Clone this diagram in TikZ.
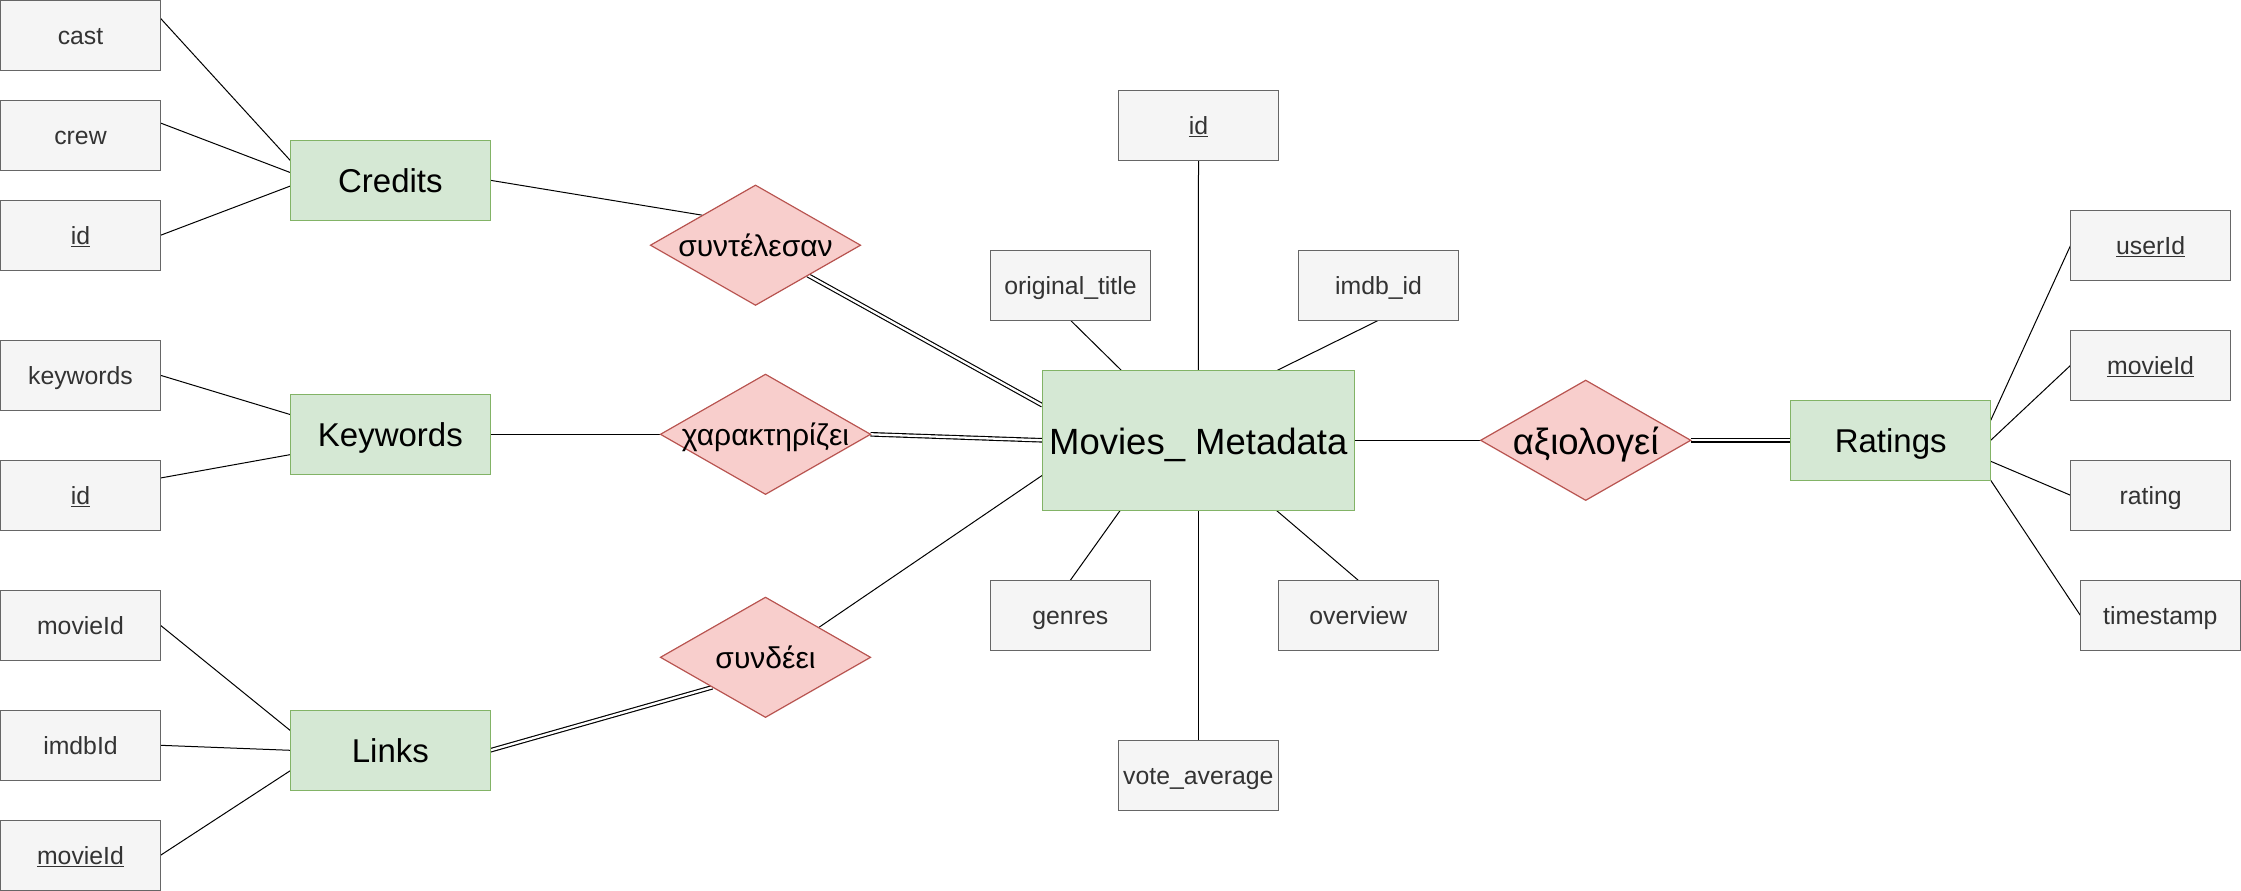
\documentclass[tikz,border=0pt]{standalone}
\usepackage{fontspec}
\setmainfont{Liberation Sans}
\usetikzlibrary{shapes.geometric,backgrounds}
\definecolor{attrfill}{HTML}{F5F5F5}
\definecolor{attrdraw}{HTML}{666666}
\definecolor{attrtext}{HTML}{333333}
\definecolor{entfill}{HTML}{D5E8D4}
\definecolor{entdraw}{HTML}{82B366}
\definecolor{relfill}{HTML}{F8CECC}
\definecolor{reldraw}{HTML}{B85450}
\newcommand\ct[1]{\raisebox{-0.38em}[0pt][0pt]{\makebox[0pt]{#1}}}
\begin{document}
\begin{tikzpicture}[x=1pt,y=-1pt,
  attr/.style={draw=attrdraw, fill=attrfill, line width=1.2pt, minimum width=160pt, minimum height=70pt, inner sep=0pt, outer sep=0pt, text=attrtext, font=\fontsize{24.8pt}{30pt}\selectfont},
  ent/.style={draw=entdraw, fill=entfill, line width=1.2pt, minimum width=200pt, minimum height=80pt, inner sep=0pt, outer sep=0pt, text=black, font=\fontsize{33pt}{40pt}\selectfont},
  rel/.style={diamond, draw=reldraw, fill=relfill, line width=1.2pt, minimum width=210pt, minimum height=120pt, inner sep=0pt, outer sep=0pt, text=black, font=\fontsize{30pt}{36pt}\selectfont},
  link/.style={draw=black, line width=1pt},
  dbl/.style={draw=black, double=white, double distance=2.3pt, line width=1.15pt}]
\useasboundingbox (0,0) rectangle (2241,891);

% Credits group
\node[attr] (cast) at (80.5,35.3) {\ct{cast}};
\node[attr] (crew) at (80.5,135.3) {\ct{crew}};
\node[attr] (idc) at (80.5,235.3) {\ct{\underline{id}}};
\node[ent] (credits) at (390.4,180.3) {\ct{Credits}};

% Keywords group
\node[attr] (keywords) at (80.5,375.3) {\ct{keywords}};
\node[attr] (idk) at (80.5,495.3) {\ct{\underline{id}}};
\node[ent] (kw) at (390.4,434.3) {\ct{Keywords}};

% Links group
\node[attr] (movieIdL) at (80.5,625.3) {\ct{movieId}};
\node[attr] (imdbId) at (80.5,745.3) {\ct{imdbId}};
\node[attr] (movieIdL2) at (80.5,855.3) {\ct{\underline{movieId}}};
\node[ent] (links) at (390.4,750.3) {\ct{Links}};

% Relationships
\node[rel] (synt) at (755.5,245.2) {\ct{συντέλεσαν}};
\node[rel] (khar) at (765.5,434.3) {\ct{χαρακτηρίζει}};
\node[rel] (synd) at (765.5,657.3) {\ct{συνδέει}};
\node[rel, font=\fontsize{36.5pt}{44pt}\selectfont] (axio) at (1585.7,440.3) {\ct{αξιολογεί}};

% Movies_Metadata
\node[ent, minimum width=312pt, minimum height=140pt, font=\fontsize{36.5pt}{44pt}\selectfont] (movies) at (1198.3,440.3) {\ct{Movies\_ Metadata}};
\node[attr] (idm) at (1198.5,125.3) {\ct{\underline{id}}};
\node[attr] (otitle) at (1070.5,285.3) {\ct{original\_title}};
\node[attr] (imdb) at (1378.5,285.3) {\ct{imdb\_id}};
\node[attr] (genres) at (1070.3,615.3) {\ct{genres}};
\node[attr] (overview) at (1358.3,615.3) {\ct{overview}};
\node[attr] (vote) at (1198.3,775.3) {\ct{vote\_average}};

% Ratings group
\node[ent] (ratings) at (1890.7,440.3) {\ct{Ratings}};
\node[attr] (userId) at (2150.6,245.3) {\ct{\underline{userId}}};
\node[attr] (movieIdR) at (2150.6,365.3) {\ct{\underline{movieId}}};
\node[attr] (rating) at (2150.6,495.3) {\ct{rating}};
\node[attr] (timestamp) at (2160.3,615.3) {\ct{timestamp}};

\begin{pgfonlayer}{background}
% Credits attributes
\draw[link] ([yshift=17pt]cast.east) -- ([yshift=19.7pt]credits.west);
\draw[link] ([yshift=12.3pt]crew.east) -- ([yshift=7.7pt]credits.west);
\draw[link] (idc.east) -- ([yshift=-5.7pt]credits.west);
% Keywords attributes
\draw[link] (keywords.east) -- ([yshift=19.7pt]kw.west);
\draw[link] ([yshift=17.3pt]idk.east) -- ([yshift=-20.3pt]kw.west);
% Links attributes
\draw[link] (movieIdL.east) -- ([yshift=19.7pt]links.west);
\draw[link] (imdbId.east) -- (links.west);
\draw[link] (movieIdL2.east) -- ([yshift=-20.3pt]links.west);
% Entities to relationships
\draw[link] (credits.east) -- ([xshift=-53.2pt,yshift=30pt]synt.center);
\draw[dbl] ([xshift=52.2pt,yshift=-30pt]synt.center) -- ([yshift=35pt]movies.west);
\draw[link] (kw.east) -- (khar.west);
\draw[dbl] (khar.east) -- (movies.west);
\draw[dbl] (links.east) -- ([xshift=-53.2pt,yshift=-30pt]synd.center);
\draw[link] ([xshift=53.5pt,yshift=30pt]synd.center) -- ([yshift=-35pt]movies.west);
\draw[link] (movies.east) -- (axio.west);
\draw[dbl] (axio.east) -- (ratings.west);
% Movies attributes
\draw[link] (idm.south) -- (movies.north);
\draw[link] (otitle.south) -- ([xshift=-77pt]movies.north);
\draw[link] (imdb.south) -- ([xshift=79pt]movies.north);
\draw[link] (genres.north) -- ([xshift=-78pt]movies.south);
\draw[link] (overview.north) -- ([xshift=78pt]movies.south);
\draw[link] (vote.north) -- (movies.south);
% Ratings attributes
\draw[link] ([yshift=20pt]ratings.east) -- (userId.west);
\draw[link] (ratings.east) -- (movieIdR.west);
\draw[link] ([yshift=-21pt]ratings.east) -- (rating.west);
\draw[link] (ratings.south east) -- (timestamp.west);
\end{pgfonlayer}
\end{tikzpicture}
\end{document}
